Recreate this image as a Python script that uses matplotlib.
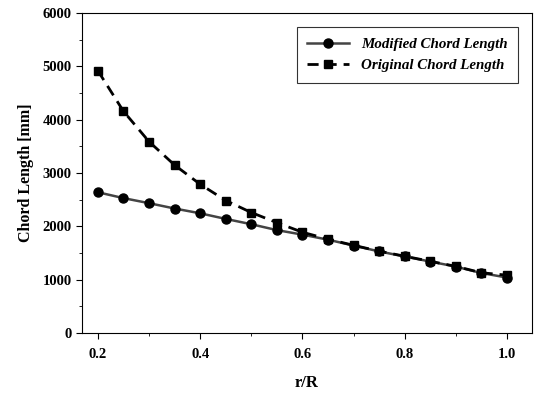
import matplotlib
matplotlib.use('Agg')
import matplotlib.pyplot as plt
from matplotlib.ticker import MultipleLocator

r_R = [0.2, 0.25, 0.3, 0.35, 0.4, 0.45, 0.5, 0.55, 0.6, 0.65, 0.7, 0.75, 0.8, 0.85, 0.9, 0.95, 1.0]
modified = [2640, 2530, 2435, 2335, 2245, 2140, 2040, 1930, 1845, 1750, 1640, 1530, 1435, 1340, 1245, 1125, 1040]
original = [4920, 4160, 3590, 3150, 2790, 2485, 2260, 2070, 1890, 1760, 1645, 1535, 1440, 1345, 1250, 1130, 1085]

plt.rcParams['font.family'] = 'Liberation Serif'
plt.rcParams['font.weight'] = 'bold'

fig = plt.figure(figsize=(5.38, 3.94), dpi=100)
ax = fig.add_axes([0.1524, 0.1548, 0.8366, 0.812])

ax.plot(r_R, modified, color='#444444', lw=1.8, marker='o', ms=6.5,
        mfc='black', mec='black', label='Modified Chord Length')
ax.plot(r_R, original, color='black', lw=2, ls=(0, (4, 2.5)), marker='s', ms=6,
        mfc='black', mec='black', label='Original Chord Length')

ax.set_xlim(0.169, 1.049)
ax.set_ylim(0, 6000)
ax.xaxis.set_major_locator(MultipleLocator(0.2))
ax.xaxis.set_minor_locator(MultipleLocator(0.1))
ax.yaxis.set_major_locator(MultipleLocator(1000))
ax.yaxis.set_minor_locator(MultipleLocator(500))
ax.set_xticks([0.2, 0.4, 0.6, 0.8, 1.0])
ax.set_xticklabels(['0.2', '0.4', '0.6', '0.8', '1.0'])
ax.tick_params(which='both', direction='out', labelsize=10.5)
ax.tick_params(which='major', length=4)
ax.tick_params(which='minor', length=2)
ax.tick_params(axis='x', pad=7)

ax.set_xlabel('r/R', fontsize=12, fontweight='bold', labelpad=10)
ax.set_ylabel('Chord Length [mm]', fontsize=11.5, fontweight='bold', labelpad=6)

leg = ax.legend(loc='upper right', bbox_to_anchor=(0.969, 0.956), borderaxespad=0,
                frameon=True, fancybox=False, edgecolor='black',
                prop={'style': 'italic', 'weight': 'bold', 'size': 10.8},
                handlelength=2.8, borderpad=0.7, labelspacing=0.5)
leg.get_frame().set_linewidth(0.8)

plt.savefig('out.png', dpi=100)
